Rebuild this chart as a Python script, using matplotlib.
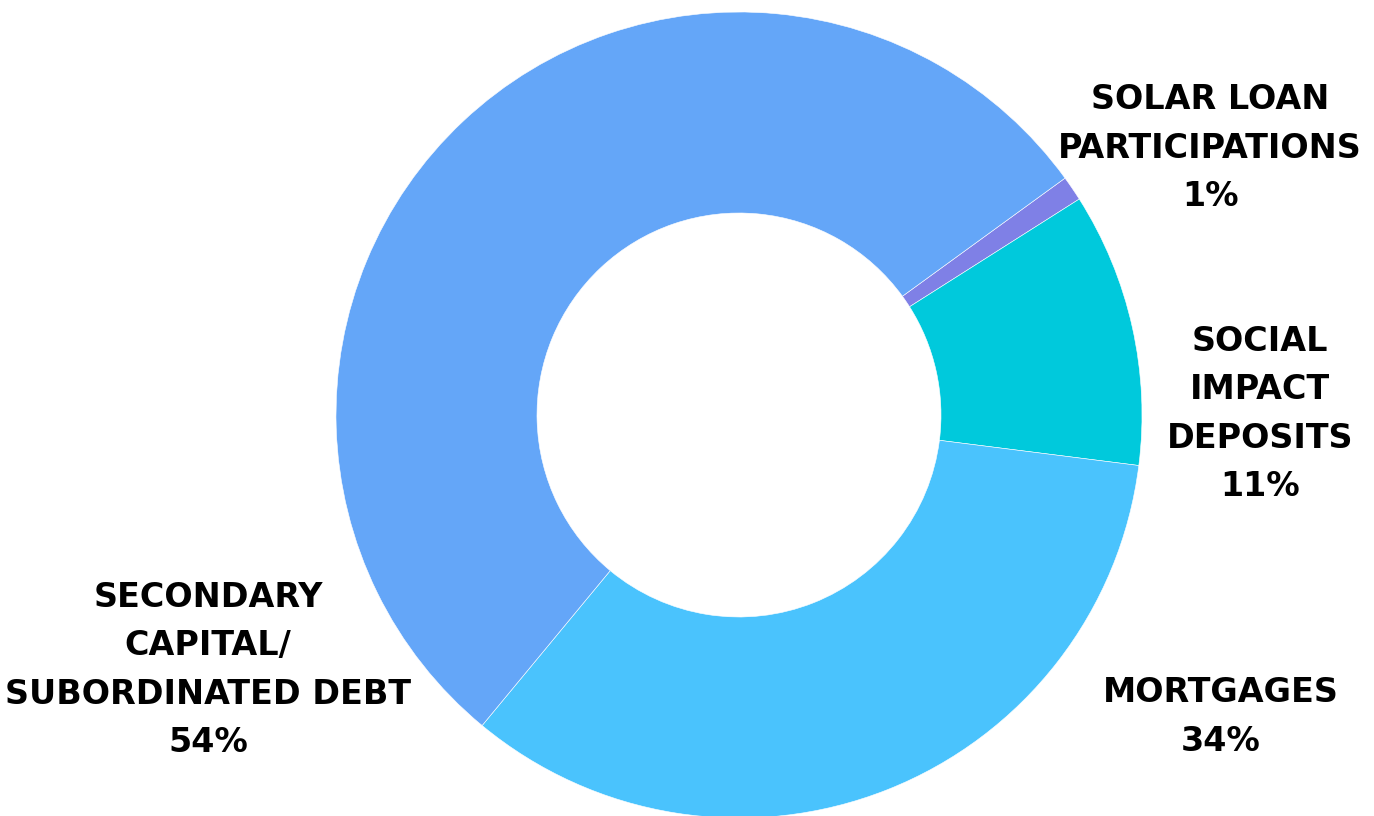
import matplotlib.pyplot as plt

labels = ['SOLAR LOAN\nPARTICIPATIONS', 'SOCIAL\nIMPACT\nDEPOSITS', 'MORTGAGES',
          'SECONDARY\nCAPITAL/\nSUBORDINATED DEBT']
shares = [1, 11, 34, 54]
colors = ['#7F80E6', '#00C9DC', '#4AC3FD', '#64A6F8']

# label anchor points in pixel coords (x, y from top)
label_pos = [(1210, 148), (1260, 414), (1221, 717), (208, 670)]

fig = plt.figure(figsize=(13.74, 8.16), dpi=100)
ax = fig.add_axes([0, 0, 1, 1])
ax.set_xlim(0, 1374)
ax.set_ylim(816, 0)
ax.set_aspect('equal')
ax.axis('off')

# y axis is inverted, so clockwise on screen = counterclock in data
ax.pie(shares, colors=colors, startangle=-36, counterclock=True,
       center=(739, 415), radius=403,
       wedgeprops=dict(width=201, edgecolor='white', linewidth=0.4))
ax.set_xlim(0, 1374)
ax.set_ylim(816, 0)

for lab, val, (x, y) in zip(labels, shares, label_pos):
    ax.text(x, y, f'{lab}\n{val}%', ha='center', va='center',
            multialignment='center', fontsize=24, fontweight='bold',
            family='DejaVu Sans', linespacing=1.6, color='black')

fig.savefig('out.png', dpi=100)
